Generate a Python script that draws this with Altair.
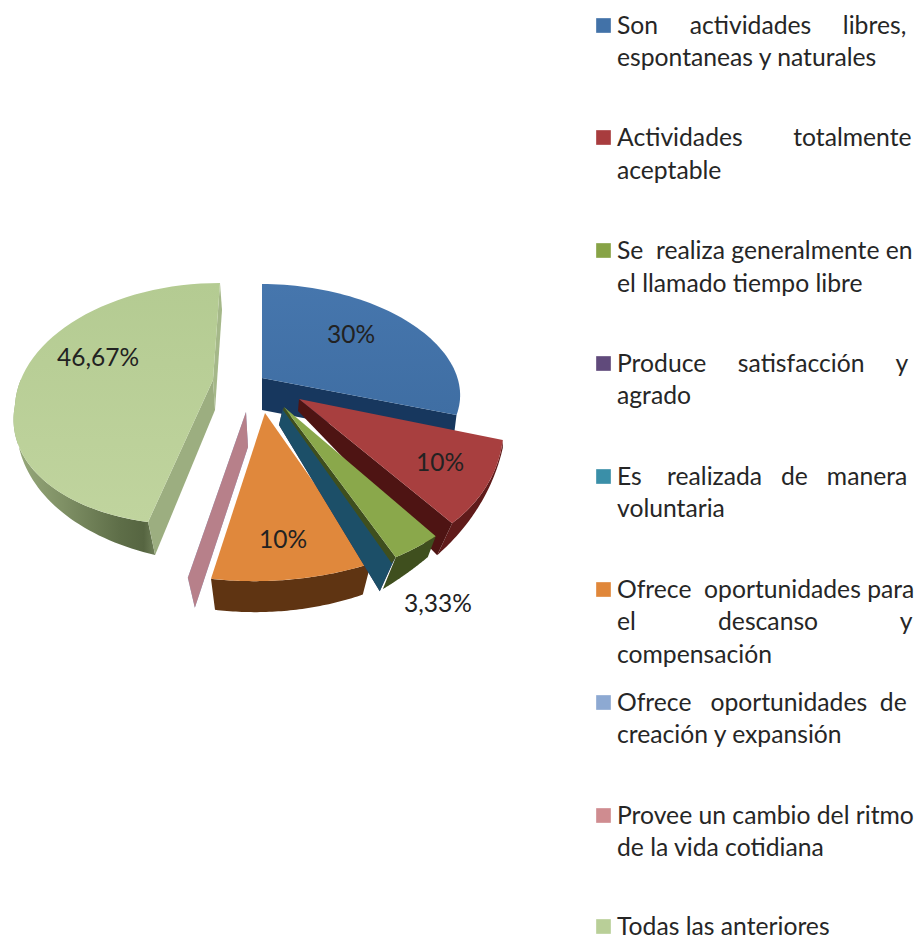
import math
import altair as alt
import pandas as pd

# ---------- chart values ----------
categories = [
    "Son actividades libres, espontaneas y naturales",
    "Actividades totalmente aceptable",
    "Se realiza generalmente en el llamado tiempo libre",
    "Produce satisfacción y agrado",
    "Es realizada de manera voluntaria",
    "Ofrece oportunidades para el descanso y compensación",
    "Ofrece oportunidades de creación y expansión",
    "Provee un cambio del ritmo de la vida cotidiana",
    "Todas las anteriores",
]
values = [30, 10, 3.33, 0, 0, 10, 0, 0, 46.67]
value_labels = ["30%", "10%", "3,33%", "", "", "10%", "", "", "46,67%"]
swatch_colors = ["#4272A8", "#A83C3E", "#87A346", "#604A7B", "#3A8FA8",
                 "#E0873A", "#8DA9D2", "#CF8C90", "#B9CF98"]

# ---------- layout helpers ----------
W, H = 908, 931
X0, Y0 = 8, 8
xs = alt.Scale(domain=[X0, X0 + W], range=[0, W], zero=False, nice=False)
ys = alt.Scale(domain=[Y0, Y0 + H], range=[0, H], zero=False, nice=False)
xe = dict(scale=xs, axis=None)
ye = dict(scale=ys, axis=None)

# Angles of each slice, clockwise from 12 o'clock, come from the values.
total = sum(values)
angles = []
acc = 0.0
for v in values:
    angles.append((acc / total * 360, (acc + v) / total * 360))
    acc += v

# Per-slice projection frames (3D tilt + explosion)
_teal = dict(c=(283, 408), e=(0, 0), u=(232, -17), vb=(-19, -172), vf=(-19, -172))
_pink = dict(c=(246, 412), e=(0, 0), u=(280, -7), vb=(0, -168), vf=(0, -168))
frames = {
    0: dict(c=(262, 378), e=(20, 6), u=(177, 0), vb=(-20, -100), vf=(-20, -100)),
    1: dict(c=(299, 399), e=(0, 0), u=(200, -9), vb=(-44, -160), vf=(-44, -160)),
    2: dict(c=(284, 407), e=(0, 0), u=(232, -17), vb=(-19, -172), vf=(-19, -172)),
    3: _teal,
    4: _teal,
    5: dict(c=(265, 413), e=(0, 0), u=(260, -7), vb=(0, -168), vf=(0, -168)),
    6: _pink,
    7: _pink,
    8: dict(c=(213, 380), e=(0, 25), u=(198, 0), vb=(7, -122), vf=(24.3, -119.6)),
}


def rim(i, deg):
    f = frames[i]
    t = math.radians(deg)
    s, co = math.sin(t), math.cos(t)
    v = f["vb"] if co > 0 else f["vf"]
    return (f["c"][0] + f["e"][0] + s * f["u"][0] + co * v[0],
            f["c"][1] + f["e"][1] + s * f["u"][1] + co * v[1])


def poly(points, fill):
    df = pd.DataFrame({"x": [p[0] for p in points], "y": [p[1] for p in points],
                       "i": list(range(len(points)))})
    return alt.Chart(df).mark_line(fill=fill, strokeOpacity=0, interpolate="linear-closed").encode(
        x=alt.X("x:Q", **xe), y=alt.Y("y:Q", **ye), order="i:Q")


def shift(p, d):
    return (p[0] + d[0], p[1] + d[1])


def top(i, fill, n=60):
    a, b = angles[i]
    pts = [frames[i]["c"]] + [rim(i, a + (b - a) * k / n) for k in range(n + 1)]
    return poly(pts, fill)


def edge(i, deg, d_apex, d_rim, fill):
    c = frames[i]["c"]
    r = rim(i, deg)
    return poly([c, r, shift(r, d_rim), shift(c, d_apex)], fill)


def outer(i, a, b, da, db, fill, n=50):
    up = [rim(i, a + (b - a) * k / n) for k in range(n + 1)]
    dn = [shift(up[k], (da[0] + (db[0] - da[0]) * k / n, da[1] + (db[1] - da[1]) * k / n))
          for k in range(n + 1)]
    return poly(up + dn[::-1], fill)


def grad(stops, x1=0, x2=1, y1=0, y2=0):
    return alt.Gradient(gradient="linear", x1=x1, x2=x2, y1=y1, y2=y2,
                        stops=[alt.GradientStop(color=c, offset=o) for o, c in stops])


pale_side = grad([(0, "#98AA7C"), (0.35, "#7F9065"), (0.75, "#5E6E48"), (0.92, "#566541"), (1, "#6F7F58")])

layers = []
# Todas las anteriores
a8, b8 = angles[8]
layers += [
    outer(8, a8, 282, (7, 33), (2, 2), pale_side),
    edge(8, a8, (2, 30), (7, 33), "#9CAE80"),
    edge(8, 360, (2, 30), (2, 27), "#A5B889"),
    top(8, grad([(0, "#B4CB92"), (1, "#C0D49E")], x1=0, x2=0, y1=0, y2=1)),
]
# Son actividades
layers += [
    edge(0, angles[0][1], (0, 32), (-4, 32), "#17375E"),
    top(0, grad([(0, "#4676AD"), (1, "#3F6EA3")], x1=0, x2=0, y1=0, y2=1)),
]
# Actividades totalmente
a1, b1 = angles[1]
layers += [
    outer(1, a1, b1, (0, 8), (-15, 32), "#601B1A"),
    edge(1, b1, (-1, 12), (-15, 32), "#4E1413"),
    top(1, "#A83F3F"),
]
# zero slices (only their cut faces show)
layers += [
    edge(6, angles[6][0], (2, 35), (7, 30), "#8DA9D2"),
    edge(7, angles[7][0], (2, 35), (7, 30), "#B7808A"),
]
# Ofrece ... descanso
a5, b5 = angles[5]
layers += [
    outer(5, a5, b5, (-8, 31), (4, 31), "#5F3412"),
    top(5, "#E0883C"),
]
# zero slices near green
layers += [
    edge(3, angles[3][0], (-4, 17), (-15, 33), "#3C2E52"),
    edge(4, angles[4][0], (-4, 17), (-15, 33), "#1C4F68"),
]
# Se realiza
a2, b2 = angles[2]
layers += [
    outer(2, a2, b2, (-8, 21), (-13, 32), "#3F4F1E"),
    edge(2, b2, (-1, 3), (-4, 6), "#3F4F1E"),
    top(2, "#8AA84B"),
]

# ---------- value labels ----------
FONT = "Lato"
label_pos = {0: (351, 336), 1: (440, 464), 2: (438, 605), 5: (283, 541), 8: (98, 359)}
lab = pd.DataFrame([{"x": label_pos[i][0], "y": label_pos[i][1], "t": value_labels[i]} for i in label_pos])
labels = alt.Chart(lab).mark_text(font=FONT, fontSize=24.5, color="#222222", baseline="middle").encode(
    x=alt.X("x:Q", **xe), y=alt.Y("y:Q", **ye), text="t:N")

# ---------- legend ----------
legend_lines = [
    ["Son actividades libres,", "espontaneas y naturales"],
    ["Actividades totalmente", "aceptable"],
    ["Se realiza generalmente en", "el llamado tiempo libre"],
    ["Produce satisfacción y", "agrado"],
    ["Es realizada de manera", "voluntaria"],
    ["Ofrece oportunidades para", "el descanso y", "compensación"],
    ["Ofrece oportunidades de", "creación y expansión"],
    ["Provee un cambio del ritmo", "de la vida cotidiana"],
    ["Todas las anteriores"],
]
line_y = [[27, 59], [139, 172], [252, 285], [365, 397], [478, 510],
          [591, 623, 656], [704, 736], [817, 849], [928]]
# extra non-breaking spaces that justify a line to the legend's right edge
extra_spaces = {
    "Son actividades libres,": 8,
    "Actividades totalmente": 7,
    "Se realiza generalmente en": 1,
    "Produce satisfacción y": 8,
    "Es realizada de manera": 7,
    "Ofrece oportunidades para": 1,
    "el descanso y": 24,
    "Ofrece oportunidades de": 3,
}


def justified(line):
    words = line.split(" ")
    gaps = len(words) - 1
    extra = extra_spaces.get(line, 0)
    if extra == 0 or gaps == 0:
        return line
    out = words[0]
    for g in range(gaps):
        n = 1 + extra // gaps + (1 if g < extra % gaps else 0)
        out += "\u00a0" * n + words[g + 1]
    return out


rows = []
sw = []
for i, (ls, yy) in enumerate(zip(legend_lines, line_y)):
    sw.append({"x": 603.5, "y": yy[0] - 1.5, "c": swatch_colors[i]})
    for l, y in zip(ls, yy):
        rows.append({"x": 617, "y": y, "t": justified(l)})
legend_text = alt.Chart(pd.DataFrame(rows)).mark_text(
    font=FONT, fontSize=24.7, color="#262626", align="left", baseline="middle").encode(
    x=alt.X("x:Q", **xe), y=alt.Y("y:Q", **ye), text="t:N")
legend_sw = alt.Chart(pd.DataFrame(sw)).mark_square(size=215, opacity=1).encode(
    x=alt.X("x:Q", **xe), y=alt.Y("y:Q", **ye),
    color=alt.Color("c:N", scale=None))

chart = alt.layer(*layers, labels, legend_sw, legend_text).properties(
    width=W, height=H, padding=0, autosize=alt.AutoSizeParams(type="none")
).configure_view(stroke=None)

chart.save("out.html", embed_options={"renderer": "svg", "actions": False})
